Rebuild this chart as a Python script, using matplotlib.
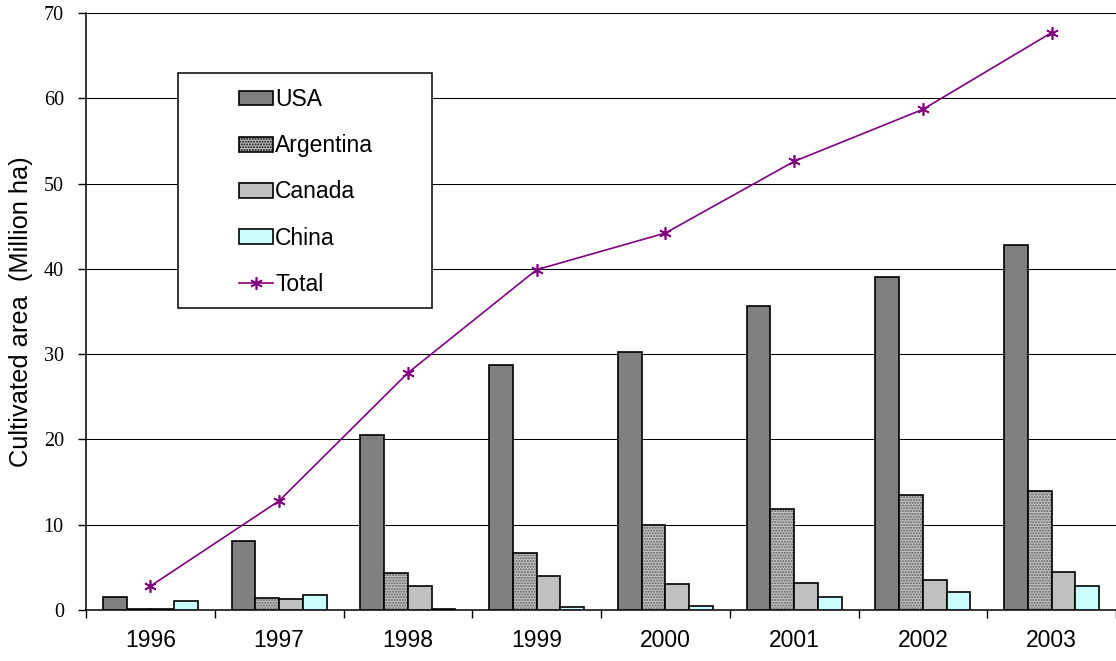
import numpy as np
import matplotlib
matplotlib.use("Agg")
import matplotlib.pyplot as plt
from matplotlib.patches import Rectangle, Patch
from matplotlib.lines import Line2D

years = ["1996", "1997", "1998", "1999", "2000", "2001", "2002", "2003"]
usa = [1.5, 8.1, 20.5, 28.7, 30.3, 35.7, 39.0, 42.8]
argentina = [0.1, 1.4, 4.3, 6.7, 10.0, 11.8, 13.5, 13.9]
canada = [0.1, 1.3, 2.8, 4.0, 3.0, 3.2, 3.5, 4.4]
china = [1.1, 1.8, 0.1, 0.3, 0.5, 1.5, 2.1, 2.8]
total = [2.8, 12.8, 27.8, 39.9, 44.2, 52.6, 58.7, 67.7]
yticks = [0, 10, 20, 30, 40, 50, 60, 70]

sans = "Liberation Sans"
serif = "Liberation Serif"

plt.rcParams["hatch.linewidth"] = 1.0

fig = plt.figure(figsize=(11.16, 6.61), dpi=100)
ax = fig.add_axes([86 / 1116, 1 - 610 / 661, 1030 / 1116, 597 / 661])

x = np.arange(len(years))
w = 0.184
edge_lw = 1.2

ax.bar(x - 1.5 * w, usa, w, color="#808080", edgecolor="black", linewidth=edge_lw, zorder=3)
# dotted fill for Argentina, then its outline
ax.bar(x - 0.5 * w, argentina, w, color="#c4c4c4", edgecolor="#5a5a5a", hatch="......",
       linewidth=0, zorder=3)
ax.bar(x - 0.5 * w, argentina, w, fill=False, edgecolor="black", linewidth=edge_lw, zorder=3)
ax.bar(x + 0.5 * w, canada, w, color="#c0c0c0", edgecolor="black", linewidth=edge_lw, zorder=3)
ax.bar(x + 1.5 * w, china, w, color="#ccffff", edgecolor="black", linewidth=edge_lw, zorder=3)

star = (6, 2, 0)
ax.plot(x, total, color="#800080", linewidth=1.2, marker=star, markersize=9,
        markeredgewidth=1.2, zorder=4)

ax.set_xlim(-0.5, len(years) - 0.5)
ax.set_ylim(0, 70)
ax.set_yticks(yticks)
ax.set_yticklabels([str(v) for v in yticks], fontfamily=serif, fontsize=14.5)
ax.yaxis.grid(True, color="black", linewidth=0.75, zorder=0)
ax.set_axisbelow(True)

ax.set_xticks(np.arange(len(years) + 1) - 0.5)
ax.set_xticklabels([])
ax.set_xticks(x, minor=True)
ax.set_xticklabels(years, minor=True, fontfamily=sans, fontsize=16.5)
ax.tick_params(axis="x", which="major", direction="out", length=6, width=1, color="black")
ax.tick_params(axis="x", which="minor", length=0, pad=14)
ax.tick_params(axis="y", direction="out", length=6, width=1, pad=10)

for side in ("top", "right"):
    ax.spines[side].set_visible(False)
ax.spines["left"].set_linewidth(1.1)
ax.spines["bottom"].set_linewidth(1.1)

ax.set_ylabel("Cultivated area  (Million ha)", fontfamily=sans, fontsize=18.3, labelpad=8)

# legend box
fig.patches.append(Rectangle((178 / 1116, 1 - 308 / 661), 254 / 1116, 235 / 661,
                             transform=fig.transFigure, facecolor="white",
                             edgecolor="black", linewidth=1.1, zorder=5))
handles = [
    Patch(facecolor="#808080", edgecolor="black", linewidth=edge_lw),
    Patch(facecolor="#c4c4c4", edgecolor="black", hatch="......", linewidth=edge_lw),
    Patch(facecolor="#c0c0c0", edgecolor="black", linewidth=edge_lw),
    Patch(facecolor="#ccffff", edgecolor="black", linewidth=edge_lw),
    Line2D([], [], color="#800080", linewidth=1.2, marker=star, markersize=9,
           markeredgewidth=1.2),
]
labels = ["USA", "Argentina", "Canada", "China", "Total"]
leg = fig.legend(handles, labels, loc="center",
                 bbox_to_anchor=(306 / 1116, 1 - 192 / 661),
                 frameon=False, prop={"family": sans, "size": 16.5},
                 handlelength=1.5, handleheight=0.6, handletextpad=0.1,
                 labelspacing=1.01, borderpad=0)
leg.set_zorder(6)

fig.savefig("out.png", dpi=100)
